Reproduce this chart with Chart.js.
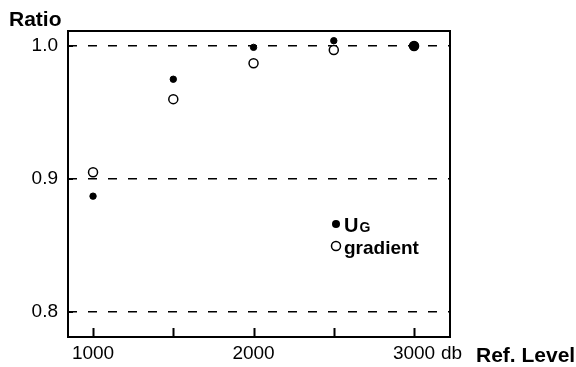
<!DOCTYPE html>
<html>
<head>
<meta charset="utf-8">
<script src="https://cdn.jsdelivr.net/npm/chart.js@4.4.0/dist/chart.umd.min.js"></script>
<style>
  html, body { margin: 0; padding: 0; background: #fff; }
  #wrap { width: 576px; height: 367px; }
</style>
</head>
<body>
<div id="wrap"><canvas id="myChart" width="576" height="367"></canvas></div>
<script>
const levels = [1000, 1500, 2000, 2500, 3000];
const ugRatio = [0.887, 0.975, 0.999, 1.004, 1.000];
const gradientRatio = [0.905, 0.960, 0.987, 0.997, 1.000];
const yTicks = [0.8, 0.9, 1.0];
const xLabelled = [1000, 2000, 3000];

const FONT = "'Liberation Sans', Arial, sans-serif";

// box, inside tick marks, titles and legend
const decor = {
  id: "decor",
  afterDraw(chart) {
    const { ctx, chartArea: a, scales } = chart;
    const x = scales.x, y = scales.y;
    ctx.save();
    ctx.strokeStyle = "#000";
    ctx.lineWidth = 2;
    ctx.strokeRect(a.left, a.top, a.right - a.left, a.bottom - a.top);

    ctx.lineWidth = 2;
    ctx.beginPath();
    levels.forEach((v) => {
      const px = Math.round(x.getPixelForValue(v)) + 0.5;
      ctx.moveTo(px, a.bottom);
      ctx.lineTo(px, a.bottom - 9);
    });
    yTicks.forEach((v) => {
      const py = Math.round(y.getPixelForValue(v));
      ctx.moveTo(a.left, py);
      ctx.lineTo(a.left + 5, py);
    });
    ctx.stroke();

    ctx.fillStyle = "#000";
    ctx.textBaseline = "alphabetic";
    ctx.font = "bold 21px " + FONT;
    ctx.textAlign = "left";
    ctx.fillText("Ratio", 9, 26);
    ctx.font = "bold 21px " + FONT;
    ctx.fillText("Ref. Level", 476, 362);
    ctx.font = "19px " + FONT;
    ctx.fillText("db", x.getPixelForValue(3000) + 27, 359);

    // legend
    const lx = 336;
    ctx.beginPath();
    ctx.arc(lx, 224, 4, 0, Math.PI * 2);
    ctx.fill();
    ctx.beginPath();
    ctx.lineWidth = 1.5;
    ctx.arc(lx, 246, 4.5, 0, Math.PI * 2);
    ctx.stroke();
    ctx.font = "bold 20px " + FONT;
    ctx.fillText("U", 344, 232);
    const uw = ctx.measureText("U").width;
    ctx.font = "bold 14px " + FONT;
    ctx.fillText("G", 344 + uw + 1, 232);
    ctx.font = "bold 19px " + FONT;
    ctx.fillText("gradient", 344, 254);
    ctx.restore();
  }
};

const ctx = document.getElementById("myChart").getContext("2d");
new Chart(ctx, {
  type: "scatter",
  data: {
    datasets: [
      {
        label: "gradient",
        data: levels.map((v, i) => ({ x: v, y: gradientRatio[i] })),
        pointStyle: "circle",
        pointRadius: 4.5,
        pointBorderWidth: 1.5,
        pointBorderColor: "#000",
        pointBackgroundColor: "#fff",
        order: 2
      },
      {
        label: "UG",
        data: levels.map((v, i) => ({ x: v, y: ugRatio[i] })),
        pointStyle: "circle",
        pointRadius: levels.map((v) => (v === 3000 ? 4.5 : 3.2)),
        pointBorderWidth: 1,
        pointBorderColor: "#000",
        pointBackgroundColor: "#000",
        order: 1
      }
    ]
  },
  options: {
    responsive: false,
    animation: false,
    events: [],
    layout: { padding: { top: 31, right: 126, left: 0, bottom: 0 } },
    plugins: { legend: { display: false }, tooltip: { enabled: false } },
    scales: {
      x: {
        type: "linear",
        min: 844,
        max: 3224,
        afterBuildTicks: (s) => { s.ticks = xLabelled.map((v) => ({ value: v })); },
        afterFit: (s) => { s.height = 30; },
        grid: { display: false, drawTicks: false },
        border: { display: false },
        ticks: {
          color: "#000",
          padding: 5,
          maxRotation: 0,
          font: { family: FONT, size: 19 },
          callback: (v) => String(v)
        }
      },
      y: {
        type: "linear",
        min: 0.781,
        max: 1.0113,
        afterBuildTicks: (s) => { s.ticks = yTicks.map((v) => ({ value: v })); },
        afterFit: (s) => { s.width = 68; },
        grid: { color: "#000", lineWidth: 1.5, drawTicks: false },
        border: { display: false, dash: [9, 11] },
        ticks: {
          color: "#000",
          padding: 10,
          font: { family: FONT, size: 19 },
          callback: (v) => v.toFixed(1)
        }
      }
    }
  },
  plugins: [decor]
});
</script>
</body>
</html>
